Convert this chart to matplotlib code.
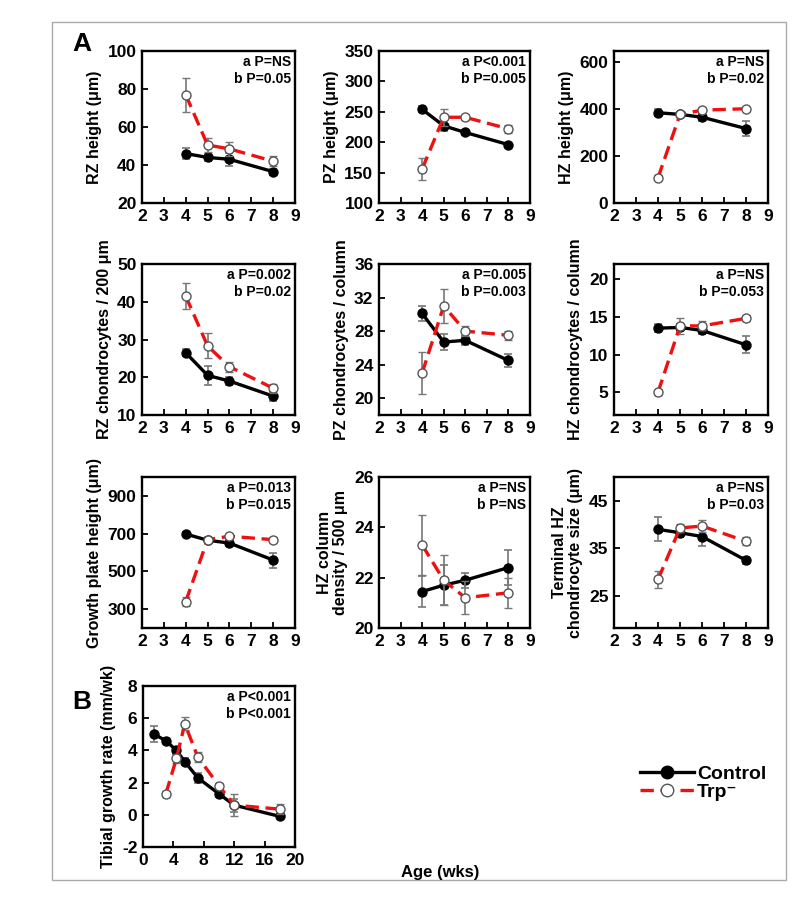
import matplotlib
matplotlib.use("Agg")
import matplotlib.pyplot as plt
from matplotlib.lines import Line2D
from matplotlib.patches import Rectangle

plt.rcParams['font.family'] = ['Liberation Sans', 'DejaVu Sans']
plt.rcParams['font.weight'] = 'bold'
plt.rcParams['axes.unicode_minus'] = False

ages = [4, 5, 6, 8]

# Panel A1: RZ height
rzh_ctrl = [46, 44, 43, 36.5]
rzh_ctrl_err = [3, 2, 3.5, 1.5]
rzh_trp = [77, 50.5, 48.5, 42]
rzh_trp_err = [9, 3.5, 3.5, 2.5]

# Panel A2: PZ height
pzh_ctrl = [254, 227, 216, 196]
pzh_ctrl_err = [5, 9, 4, 3]
pzh_trp = [156, 241, 241, 222]
pzh_trp_err = [18, 14, 4, 7]

# Panel A3: HZ height
hzh_ctrl = [383, 376, 364, 316]
hzh_ctrl_err = [15, 10, 15, 30]
hzh_trp = [107, 376, 394, 400]
hzh_trp_err = [10, 10, 8, 8]

# Panel A4: RZ chondrocytes / 200 um
rzc_ctrl = [26.5, 20.5, 19, 15]
rzc_ctrl_err = [1, 2.5, 1, 1.2]
rzc_trp = [41.5, 28.3, 22.8, 17.1]
rzc_trp_err = [3.5, 3.3, 1.3, 1.2]

# Panel A5: PZ chondrocytes / column
pzc_ctrl = [30.1, 26.7, 26.9, 24.5]
pzc_ctrl_err = [0.9, 0.9, 0.5, 0.8]
pzc_trp = [23.0, 31.0, 28.0, 27.5]
pzc_trp_err = [2.5, 2.0, 0.6, 0.5]

# Panel A6: HZ chondrocytes / column
hzc_ctrl = [13.5, 13.6, 13.2, 11.3]
hzc_ctrl_err = [0.5, 0.5, 0.5, 1.1]
hzc_trp = [5.0, 13.8, 13.8, 14.8]
hzc_trp_err = [0.3, 1.1, 0.6, 0.3]

# Panel A7: Growth plate height
gp_ctrl = [698, 665, 650, 560]
gp_ctrl_err = [12, 15, 15, 40]
gp_trp = [340, 668, 686, 668]
gp_trp_err = [25, 15, 12, 12]

# Panel A8: HZ column density / 500 um
cd_ctrl = [21.45, 21.7, 21.9, 22.4]
cd_ctrl_err = [0.6, 0.8, 0.3, 0.7]
cd_trp = [23.3, 21.9, 21.2, 21.4]
cd_trp_err = [1.2, 1.0, 0.65, 0.6]

# Panel A9: Terminal HZ chondrocyte size
ts_ctrl = [39, 38.3, 37.5, 32.5]
ts_ctrl_err = [2.5, 1.0, 2.0, 0.8]
ts_trp = [28.5, 39.3, 39.7, 36.5]
ts_trp_err = [1.7, 0.8, 1.2, 0.8]

# Panel B: Tibial growth rate
tib_ctrl_age = [1.5, 3, 4.4, 5.5, 7.2, 10, 12, 18]
tib_ctrl = [5.0, 4.6, 4.0, 3.3, 2.3, 1.3, 0.6, -0.1]
tib_ctrl_err = [0.5, 0.15, 0.2, 0.2, 0.3, 0.2, 0.4, 0.15]
tib_trp_age = [3, 4.4, 5.5, 7.2, 10, 12, 18]
tib_trp = [1.3, 3.5, 5.65, 3.6, 1.8, 0.6, 0.35]
tib_trp_err = [0.2, 0.3, 0.4, 0.3, 0.2, 0.7, 0.3]

W, H = 800, 898
fig = plt.figure(figsize=(W / 100, H / 100), dpi=100)

def ax_px(left, top, right, bottom):
    return fig.add_axes([left / W, 1 - bottom / H, (right - left) / W, (bottom - top) / H])

def draw(ax, xc, yc, ec, xt, yt, et, ylim, yticks, ylabel, ptxt, xlim=(2, 9), xticks=range(2, 10)):
    ax.errorbar(xc, yc, yerr=ec, color='black', lw=2.4, marker='o', ms=6.5,
                mfc='black', mec='black', ecolor='#777777', elinewidth=1.2,
                capsize=3, capthick=1.2, zorder=3)
    ax.errorbar(xt, yt, yerr=et, color='#ee1111', lw=2.4, ls=(0, (4, 2)), marker='o', ms=6.5,
                mfc='white', mec='#555555', mew=1.0, ecolor='#777777', elinewidth=1.2,
                capsize=3, capthick=1.2, zorder=4)
    ax.set_xlim(*xlim)
    ax.set_xticks(list(xticks))
    ax.set_ylim(*ylim)
    ax.set_yticks(yticks)
    for s in ax.spines.values():
        s.set_linewidth(1.7)
    ax.tick_params(direction='in', length=4, width=1.3, labelsize=12.5, pad=4)
    for lab in ax.get_xticklabels() + ax.get_yticklabels():
        lab.set_fontweight('bold')
    ax.set_ylabel(ylabel, fontsize=11.5, fontweight='bold', labelpad=4, linespacing=1.1)
    ax.text(0.975, 0.975, ptxt, transform=ax.transAxes, ha='right', va='top',
            fontsize=10, fontweight='bold', linespacing=1.3)

cols = [(142, 295), (379, 530), (614, 768)]
rows = [(51, 203), (264, 415), (477, 628)]

ax1 = ax_px(cols[0][0], rows[0][0], cols[0][1], rows[0][1])
draw(ax1, ages, rzh_ctrl, rzh_ctrl_err, ages, rzh_trp, rzh_trp_err, (20, 100), [20, 40, 60, 80, 100],
     'RZ height (μm)', 'a P=NS\nb P=0.05')
ax2 = ax_px(cols[1][0], rows[0][0], cols[1][1], rows[0][1])
draw(ax2, ages, pzh_ctrl, pzh_ctrl_err, ages, pzh_trp, pzh_trp_err, (100, 350), [100, 150, 200, 250, 300, 350],
     'PZ height (μm)', 'a P<0.001\nb P=0.005')
ax3 = ax_px(cols[2][0], rows[0][0], cols[2][1], rows[0][1])
draw(ax3, ages, hzh_ctrl, hzh_ctrl_err, ages, hzh_trp, hzh_trp_err, (0, 645), [0, 200, 400, 600],
     'HZ height (μm)', 'a P=NS\nb P=0.02')

ax4 = ax_px(cols[0][0], rows[1][0], cols[0][1], rows[1][1])
draw(ax4, ages, rzc_ctrl, rzc_ctrl_err, ages, rzc_trp, rzc_trp_err, (10, 50), [10, 20, 30, 40, 50],
     'RZ chondrocytes / 200 μm', 'a P=0.002\nb P=0.02')
ax5 = ax_px(cols[1][0], rows[1][0], cols[1][1], rows[1][1])
draw(ax5, ages, pzc_ctrl, pzc_ctrl_err, ages, pzc_trp, pzc_trp_err, (18, 36), [20, 24, 28, 32, 36],
     'PZ chondrocytes / column', 'a P=0.005\nb P=0.003')
ax6 = ax_px(cols[2][0], rows[1][0], cols[2][1], rows[1][1])
draw(ax6, ages, hzc_ctrl, hzc_ctrl_err, ages, hzc_trp, hzc_trp_err, (2, 22), [5, 10, 15, 20],
     'HZ chondrocytes / column', 'a P=NS\nb P=0.053')

ax7 = ax_px(cols[0][0], rows[2][0], cols[0][1], rows[2][1])
draw(ax7, ages, gp_ctrl, gp_ctrl_err, ages, gp_trp, gp_trp_err, (200, 1000), [300, 500, 700, 900],
     'Growth plate height (μm)', 'a P=0.013\nb P=0.015')
ax8 = ax_px(cols[1][0], rows[2][0], cols[1][1], rows[2][1])
draw(ax8, ages, cd_ctrl, cd_ctrl_err, ages, cd_trp, cd_trp_err, (20, 26), [20, 22, 24, 26],
     'HZ column\ndensity / 500 μm', 'a P=NS\nb P=NS')
ax9 = ax_px(cols[2][0], rows[2][0], cols[2][1], rows[2][1])
draw(ax9, ages, ts_ctrl, ts_ctrl_err, ages, ts_trp, ts_trp_err, (18.3, 50), [25, 35, 45],
     'Terminal HZ\nchondrocyte size (μm)', 'a P=NS\nb P=0.03')

axB = ax_px(143, 686, 295, 847)
draw(axB, tib_ctrl_age, tib_ctrl, tib_ctrl_err, tib_trp_age, tib_trp, tib_trp_err, (-2, 8), [-2, 0, 2, 4, 6, 8],
     'Tibial growth rate (mm/wk)', 'a P<0.001\nb P<0.001', xlim=(0, 20), xticks=range(0, 21, 4))

fig.text(82 / W, 1 - 44 / H, 'A', fontsize=19, fontweight='bold', ha='center', va='center')
fig.text(82 / W, 1 - 702 / H, 'B', fontsize=19, fontweight='bold', ha='center', va='center')
fig.text(440 / W, 1 - 872 / H, 'Age (wks)', fontsize=12, fontweight='bold', ha='center', va='center')

handles = [
    Line2D([], [], color='black', lw=2.4, marker='o', ms=9, mfc='black', mec='black'),
    Line2D([], [], color='#ee1111', lw=2.4, ls=(0, (4, 2)), marker='o', ms=9, mfc='white', mec='#555555'),
]
leg = fig.legend(handles, ['Control', 'Trp⁻'], loc='upper left',
                 bbox_to_anchor=(626 / W, 1 - 752 / H), frameon=False,
                 prop={'size': 14, 'weight': 'bold'}, handlelength=2.8, handletextpad=0.15,
                 labelspacing=0.0, borderpad=0.2)

fig.patches.append(Rectangle((52 / W, 1 - 880 / H), (786 - 52) / W, (880 - 22) / H,
                             transform=fig.transFigure, fill=False, edgecolor='#aaaaaa', lw=1.0))

fig.savefig('out.png', dpi=100, facecolor='white')
